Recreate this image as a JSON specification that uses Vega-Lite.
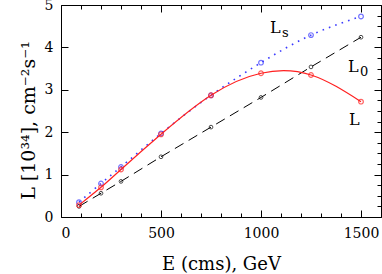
{
  "$schema": "https://vega.github.io/schema/vega-lite/v6.json",
  "autosize": "none",
  "width": 320,
  "height": 212,
  "padding": {"left": 61, "top": 5, "right": 1, "bottom": 57},
  "background": "white",
  "config": {
    "view": {"stroke": "black", "strokeWidth": 1},
    "axis": {
      "domain": false,
      "grid": false,
      "tickColor": "black",
      "tickWidth": 1,
      "labelColor": "black",
      "labelFont": "DejaVu Serif",
      "labelFontSize": 14,
      "titleFont": "DejaVu Serif",
      "titleFontSize": 18,
      "titleFontWeight": "normal",
      "titleColor": "black"
    }
  },
  "datasets": {
    "lum": [
      {"E": 90, "L": 0.35, "series": "Ls"},
      {"E": 200, "L": 0.79, "series": "Ls"},
      {"E": 300, "L": 1.18, "series": "Ls"},
      {"E": 500, "L": 1.97, "series": "Ls"},
      {"E": 750, "L": 2.87, "series": "Ls"},
      {"E": 1000, "L": 3.64, "series": "Ls"},
      {"E": 1250, "L": 4.29, "series": "Ls"},
      {"E": 1500, "L": 4.73, "series": "Ls"},
      {"E": 90, "L": 0.25, "series": "L0"},
      {"E": 200, "L": 0.56, "series": "L0"},
      {"E": 300, "L": 0.84, "series": "L0"},
      {"E": 500, "L": 1.42, "series": "L0"},
      {"E": 750, "L": 2.12, "series": "L0"},
      {"E": 1000, "L": 2.82, "series": "L0"},
      {"E": 1250, "L": 3.54, "series": "L0"},
      {"E": 1500, "L": 4.24, "series": "L0"},
      {"E": 90, "L": 0.28, "series": "L"},
      {"E": 200, "L": 0.70, "series": "L"},
      {"E": 300, "L": 1.12, "series": "L"},
      {"E": 500, "L": 1.95, "series": "L"},
      {"E": 750, "L": 2.87, "series": "L"},
      {"E": 1000, "L": 3.39, "series": "L"},
      {"E": 1250, "L": 3.35, "series": "L"},
      {"E": 1500, "L": 2.72, "series": "L"}
    ],
    "labels": [
      {"E": 1045, "L": 4.33, "main": "L", "sub": "s"},
      {"E": 1435, "L": 3.43, "main": "L", "sub": "0"},
      {"E": 1440, "L": 2.16, "main": "L", "sub": ""}
    ]
  },
  "resolve": {"axis": {"x": "independent", "y": "independent"}},
  "layer": [
    {
      "data": {"name": "lum"},
      "transform": [{"filter": "datum.series === 'Ls'"}],
      "mark": {"type": "line", "interpolate": "natural", "stroke": "#3a3aff", "strokeWidth": 1.6, "strokeDash": [1.6, 5.2]},
      "encoding": {
        "x": {
          "field": "E", "type": "quantitative",
          "scale": {"domain": [0, 1600], "nice": false},
          "axis": {
            "orient": "bottom",
            "values": [0,100,200,300,400,500,600,700,800,900,1000,1100,1200,1300,1400,1500,1600],
            "format": "d",
            "labelExpr": "datum.value % 500 === 0 ? datum.label : ''",
            "tickSize": {"condition": {"test": "datum.value % 500 === 0", "value": -7}, "value": -4},
            "labelPadding": 16,
            "title": "E (cms), GeV",
            "titlePadding": 15
          }
        },
        "y": {
          "field": "L", "type": "quantitative",
          "scale": {"domain": [0, 5], "nice": false},
          "axis": {
            "orient": "left",
            "values": [0,0.25,0.5,0.75,1,1.25,1.5,1.75,2,2.25,2.5,2.75,3,3.25,3.5,3.75,4,4.25,4.5,4.75,5],
            "format": "d",
            "labelExpr": "datum.value % 1 === 0 ? datum.label : ''",
            "tickSize": {"condition": {"test": "datum.value % 1 === 0", "value": -7}, "value": -4},
            "labelPadding": 15,
            "title": "L [10³⁴], cm⁻²s⁻¹",
            "titleFontSize": 19,
            "titleY": 115,
            "titlePadding": 6
          }
        }
      }
    },
    {
      "data": {"name": "lum"},
      "transform": [{"filter": "datum.series === 'Ls'"}],
      "mark": {"type": "point", "shape": "circle", "filled": false, "stroke": "#3a3aff", "strokeWidth": 1.2, "size": 22},
      "encoding": {
        "x": {
          "field": "E", "type": "quantitative",
          "axis": {
            "orient": "top",
            "values": [0,100,200,300,400,500,600,700,800,900,1000,1100,1200,1300,1400,1500,1600],
            "labels": false,
            "tickSize": {"condition": {"test": "datum.value % 500 === 0", "value": -7}, "value": -4},
            "title": null
          }
        },
        "y": {
          "field": "L", "type": "quantitative",
          "axis": {
            "orient": "right",
            "values": [0,0.25,0.5,0.75,1,1.25,1.5,1.75,2,2.25,2.5,2.75,3,3.25,3.5,3.75,4,4.25,4.5,4.75,5],
            "labels": false,
            "tickSize": {"condition": {"test": "datum.value % 1 === 0", "value": -7}, "value": -4},
            "title": null
          }
        }
      }
    },
    {
      "data": {"name": "lum"},
      "transform": [{"filter": "datum.series === 'L0'"}],
      "mark": {"type": "line", "stroke": "black", "strokeWidth": 1, "strokeDash": [10, 6]},
      "encoding": {
        "x": {"field": "E", "type": "quantitative", "axis": null},
        "y": {"field": "L", "type": "quantitative", "axis": null}
      }
    },
    {
      "data": {"name": "lum"},
      "transform": [{"filter": "datum.series === 'L0'"}],
      "mark": {"type": "point", "shape": "circle", "filled": false, "stroke": "black", "strokeWidth": 1, "size": 14},
      "encoding": {
        "x": {"field": "E", "type": "quantitative", "axis": null},
        "y": {"field": "L", "type": "quantitative", "axis": null}
      }
    },
    {
      "data": {"name": "lum"},
      "transform": [{"filter": "datum.series === 'L'"}],
      "mark": {"type": "line", "interpolate": "natural", "stroke": "#ff2020", "strokeWidth": 1.2},
      "encoding": {
        "x": {"field": "E", "type": "quantitative", "axis": null},
        "y": {"field": "L", "type": "quantitative", "axis": null}
      }
    },
    {
      "data": {"name": "lum"},
      "transform": [{"filter": "datum.series === 'L'"}],
      "mark": {"type": "point", "shape": "circle", "filled": false, "stroke": "#ff2020", "strokeWidth": 1.2, "size": 22},
      "encoding": {
        "x": {"field": "E", "type": "quantitative", "axis": null},
        "y": {"field": "L", "type": "quantitative", "axis": null}
      }
    },
    {
      "data": {"name": "labels"},
      "mark": {"type": "text", "align": "left", "baseline": "alphabetic", "font": "DejaVu Serif", "fontSize": 16, "color": "black"},
      "encoding": {
        "x": {"field": "E", "type": "quantitative", "axis": null},
        "y": {"field": "L", "type": "quantitative", "axis": null},
        "text": {"field": "main"}
      }
    },
    {
      "data": {"name": "labels"},
      "mark": {"type": "text", "align": "left", "baseline": "alphabetic", "font": "DejaVu Serif", "fontSize": 13, "dx": 12, "dy": 4, "color": "black"},
      "encoding": {
        "x": {"field": "E", "type": "quantitative", "axis": null},
        "y": {"field": "L", "type": "quantitative", "axis": null},
        "text": {"field": "sub"}
      }
    }
  ]
}
